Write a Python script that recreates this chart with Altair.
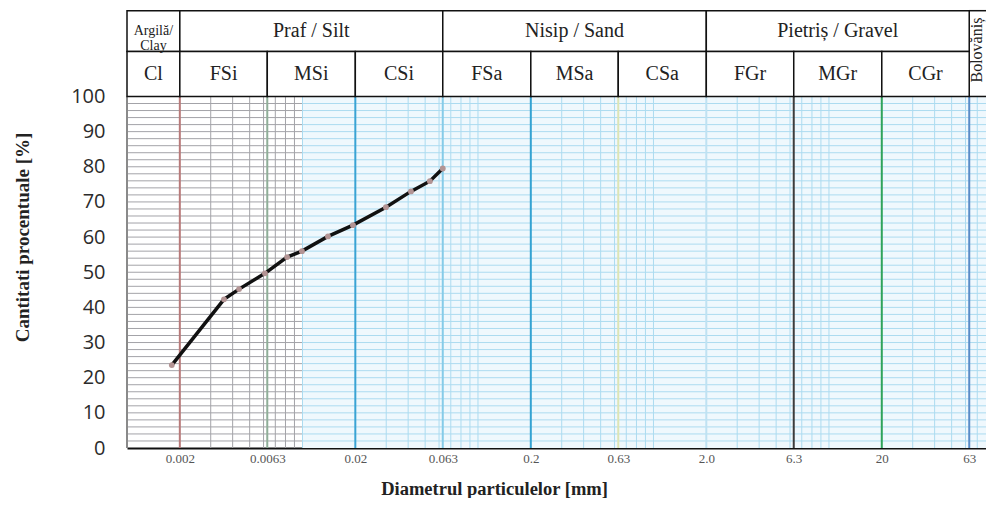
import altair as alt
import pandas as pd

# ---------------- data ----------------
X_MIN, X_MAX = 0.001, 78.5
Y_TOP = 124.6
HEAD_TOP = 124.4
ROW_MID = 112.8
HEAD_BOTTOM = 100.0

diam = [0.0018, 0.00357, 0.00435, 0.00611, 0.00817, 0.00993, 0.01397,
        0.0194, 0.0299, 0.0415, 0.0532, 0.063]
passing = [23.6, 42.3, 45.2, 49.7, 54.3, 56.0, 60.2, 63.4, 68.5, 73.0, 75.9, 79.5]

tick_values = [0.002, 0.0063, 0.02, 0.063, 0.2, 0.63, 2.0, 6.3, 20, 63]
tick_labels = ["0.002", "0.0063", "0.02", "0.063", "0.2", "0.63", "2.0", "6.3", "20", "63"]
y_ticks = [0, 10, 20, 30, 40, 50, 60, 70, 80, 90, 100]

main_names = ["Praf / Silt", "Nisip / Sand", "Pietriș / Gravel"]
main_from = [0.002, 0.063, 2.0]
main_to = [0.063, 2.0, 63]

clay_name = "Argilă/\nClay"
clay_from, clay_to = 0.001, 0.002
boulder_name = "Bolovăniș"
boulder_from = 63
boulder_text_x = 70.0

sub_names = ["Cl", "FSi", "MSi", "CSi", "FSa", "MSa", "CSa", "FGr", "MGr", "CGr"]
sub_from = [0.001, 0.002, 0.0063, 0.02, 0.063, 0.2, 0.63, 2.0, 6.3, 20]
sub_to = [0.002, 0.0063, 0.02, 0.063, 0.2, 0.63, 2.0, 6.3, 20, 63]

boundary_values = [0.002, 0.0063, 0.02, 0.063, 0.2, 0.63, 2.0, 6.3, 20, 63]
boundary_colors = ["#b87a7a", "#8fae98", "#3aa3d4", "#86cbe8", "#34a2d2",
                   "#dde5b5", "#bfe2f2", "#3c3c3c", "#2fa35a", "#5a8cc8"]

GRAY = "#a3a3a8"
BLUE = "#acdbf0"
SPLIT = 0.01

# ---------------- tables ----------------
curve = pd.DataFrame({"d": diam, "p": passing})

hgrid_rows = []
for yv in range(2, 100, 2):
    hgrid_rows.append({"x0": X_MIN, "x1": SPLIT, "y": yv, "c": GRAY})
    hgrid_rows.append({"x0": SPLIT, "x1": X_MAX, "y": yv, "c": BLUE})
hgrid = pd.DataFrame(hgrid_rows)

vgrid_rows = []
for e in range(-3, 2):
    for m in range(1, 10):
        v = m * 10.0 ** e
        if X_MIN < v < X_MAX and all(abs(v - b) > 1e-9 for b in boundary_values):
            vgrid_rows.append({"x": v, "c": GRAY if v < SPLIT else BLUE})
vgrid = pd.DataFrame(vgrid_rows)

bounds = pd.DataFrame({"x": boundary_values, "c": boundary_colors})

bg = pd.DataFrame({"x0": [SPLIT], "x1": [X_MAX], "y0": [0], "y1": [100]})
leftline = pd.DataFrame({"x": [X_MIN], "y0": [0], "y1": [100]})

head_cells = pd.DataFrame(
    [{"x0": clay_from, "x1": clay_to, "y0": ROW_MID, "y1": HEAD_TOP}]
    + [{"x0": a, "x1": b, "y0": ROW_MID, "y1": HEAD_TOP} for a, b in zip(main_from, main_to)]
    + [{"x0": a, "x1": b, "y0": HEAD_BOTTOM, "y1": ROW_MID} for a, b in zip(sub_from, sub_to)]
)
boulder_cell = pd.DataFrame({"x0": [boulder_from], "x1": [X_MAX],
                             "y0": [HEAD_BOTTOM], "y1": [HEAD_TOP]})
boulder_edges = pd.DataFrame({"x0": [boulder_from, boulder_from], "x1": [X_MAX, X_MAX],
                              "y": [HEAD_BOTTOM, HEAD_TOP]})

main_text = pd.DataFrame({"t": main_names,
                          "x": [(a * b) ** 0.5 for a, b in zip(main_from, main_to)],
                          "y": [(ROW_MID + HEAD_TOP) / 2] * len(main_names)})
sub_text = pd.DataFrame({"t": sub_names,
                         "x": [(a * b) ** 0.5 for a, b in zip(sub_from, sub_to)],
                         "y": [(HEAD_BOTTOM + ROW_MID) / 2] * len(sub_names)})
clay_text = pd.DataFrame({"t": [clay_name], "x": [(clay_from * clay_to) ** 0.5],
                          "y": [(ROW_MID + HEAD_TOP) / 2]})
boulder_text = pd.DataFrame({"t": [boulder_name], "x": [boulder_text_x],
                             "y": [(HEAD_BOTTOM + HEAD_TOP) / 2 + 1.0]})

# ---------------- encodings ----------------
label_expr = " : ".join(
    f"abs(datum.value - {v}) < {v * 1e-3} ? '{lab}'" for v, lab in zip(tick_values, tick_labels)
) + " : ''"

x_scale = alt.Scale(type="log", domain=[X_MIN, X_MAX], nice=False)
y_scale = alt.Scale(domain=[0, Y_TOP], nice=False, zero=False)

x_axis = alt.Axis(values=tick_values, labelExpr=label_expr, grid=False, ticks=False,
                  domainColor="#111111", domainWidth=2, labelFont="Liberation Serif",
                  labelFontSize=13, labelColor="#555555", labelPadding=4, labelFlush=False,
                  title="Diametrul particulelor [mm]", titleFont="Liberation Serif",
                  titleFontSize=18.5, titleFontWeight="bold", titleColor="#222222",
                  titleX=367, titleY=40, titleBaseline="middle", titleAnchor="middle")
y_axis = alt.Axis(values=y_ticks, grid=False, ticks=False, domain=False,
                  labelFont="Open Sans", labelFontSize=20, labelColor="#2b2b2b",
                  labelPadding=22, labelFlush=False,
                  title="Cantitati procentuale [%]", titleFont="Liberation Serif",
                  titleFontSize=19, titleFontWeight="bold", titleColor="#222222",
                  titleX=-105, titleY=227, titleAngle=270, titleAlign="center",
                  titleBaseline="middle")


def X(f):
    return alt.X(f, type="quantitative", scale=x_scale, axis=x_axis)


def Y(f):
    return alt.Y(f, type="quantitative", scale=y_scale, axis=y_axis)


# ---------------- layers ----------------
bg_layer = alt.Chart(bg).mark_rect(color="#eff8fd").encode(
    x=X("x0"), x2="x1", y=Y("y0"), y2="y1")

hgrid_layer = alt.Chart(hgrid).mark_rule(strokeWidth=1).encode(
    x=X("x0"), x2="x1", y=Y("y"), color=alt.Color("c:N", scale=None))

vgrid_layer = alt.Chart(vgrid).mark_rule(strokeWidth=1).encode(
    x=X("x"), y=alt.Y("y0:Q", scale=y_scale, axis=y_axis), y2="y1:Q",
    color=alt.Color("c:N", scale=None)
).transform_calculate(y0="0", y1="100")

bound_layer = alt.Chart(bounds).mark_rule(strokeWidth=2).encode(
    x=X("x"), y=alt.Y("y0:Q", scale=y_scale, axis=y_axis), y2="y1:Q",
    color=alt.Color("c:N", scale=None)
).transform_calculate(y0="0", y1="100")

left_layer = alt.Chart(leftline).mark_rule(strokeWidth=2, color="#8a8a8a").encode(
    x=X("x"), y=Y("y0"), y2="y1")

line_layer = alt.Chart(curve).mark_line(color="#111111", strokeWidth=3.5,
                                        interpolate="linear").encode(
    x=X("d"), y=Y("p"))

point_layer = alt.Chart(curve).mark_point(filled=True, size=34, color="#b39494",
                                          opacity=1).encode(
    x=X("d"), y=Y("p"))

boulder_fill = alt.Chart(boulder_cell).mark_rect(fill="white", strokeWidth=0).encode(
    x=X("x0"), x2="x1", y=Y("y0"), y2="y1")

boulder_edge_layer = alt.Chart(boulder_edges).mark_rule(strokeWidth=1.5, color="#111111").encode(
    x=X("x0"), x2="x1", y=Y("y"))

head_layer = alt.Chart(head_cells).mark_rect(fill="white", stroke="#111111",
                                             strokeWidth=1.5).encode(
    x=X("x0"), x2="x1", y=Y("y0"), y2="y1")

main_text_layer = alt.Chart(main_text).mark_text(
    font="Liberation Serif", fontSize=20, color="#222222").encode(
    x=X("x"), y=Y("y"), text="t:N")

sub_text_layer = alt.Chart(sub_text).mark_text(
    font="Liberation Serif", fontSize=20, color="#222222").encode(
    x=X("x"), y=Y("y"), text="t:N")

clay_text_layer = alt.Chart(clay_text).mark_text(
    font="Liberation Serif", fontSize=14, lineHeight=15, lineBreak="\n",
    color="#222222").encode(x=X("x"), y=Y("y"), text="t:N")

boulder_text_layer = alt.Chart(boulder_text).mark_text(
    font="Liberation Serif", fontSize=16, angle=270, color="#222222",
    baseline="middle", align="center").encode(x=X("x"), y=Y("y"), text="t:N")

chart = alt.layer(
    bg_layer, hgrid_layer, vgrid_layer, bound_layer, left_layer,
    line_layer, point_layer,
    boulder_fill, boulder_edge_layer, head_layer,
    main_text_layer, sub_text_layer, clay_text_layer, boulder_text_layer
).properties(
    width=859, height=438,
    padding={"left": 119, "top": 2, "right": 0, "bottom": 50},
    autosize=alt.AutoSizeParams(type="none"),
    background="white"
).configure_view(stroke=None)

chart.save("out.html", embed_options={"renderer": "svg", "actions": False})
